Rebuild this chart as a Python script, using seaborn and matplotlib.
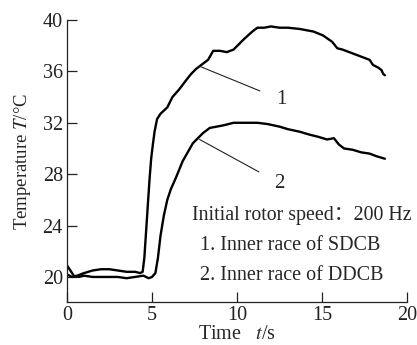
import matplotlib
matplotlib.use("Agg")
import matplotlib.pyplot as plt
import seaborn as sns
import pandas as pd

# Curve 1: inner race of SDCB
t1 = [0, 0.3, 0.6, 1.0, 1.5, 2.0, 2.5, 3.0, 3.5, 4.0, 4.3, 4.45, 4.55, 4.65, 4.75, 4.85, 4.95, 5.05,
      5.15, 5.3, 5.5, 5.9, 6.2, 6.6, 7.0, 7.3, 7.6, 7.9, 8.3, 8.6, 9.0, 9.4, 9.8, 10.1, 10.4, 10.9,
      11.2, 11.6, 12.0, 12.5, 13.0, 13.7, 14.1, 14.5, 15.06, 15.6, 15.9, 16.2, 16.6, 17.0, 17.4,
      17.8, 18.0, 18.3, 18.5, 18.6, 18.7]
T1 = [20.2, 20.0, 20.1, 20.3, 20.5, 20.6, 20.6, 20.5, 20.4, 20.4, 20.3, 20.4, 21.5, 23.5, 25.5,
      27.5, 29.2, 30.3, 31.3, 32.3, 32.7, 33.2, 34.0, 34.6, 35.3, 35.8, 36.2, 36.5, 36.9, 37.6,
      37.6, 37.5, 37.7, 38.1, 38.5, 39.1, 39.4, 39.4, 39.5, 39.4, 39.4, 39.3, 39.2, 39.1, 38.8,
      38.3, 37.8, 37.7, 37.5, 37.3, 37.1, 36.9, 36.5, 36.3, 36.1, 35.8, 35.7]

# Curve 2: inner race of DDCB
t2 = [0, 0.2, 0.4, 0.7, 1.0, 1.5, 2.0, 2.5, 3.0, 3.5, 4.0, 4.5, 4.8, 5.0, 5.2, 5.35, 5.5, 5.7,
      5.9, 6.1, 6.4, 6.8, 7.1, 7.4, 7.7, 8.0, 8.4, 8.8, 9.2, 9.8, 10.5, 11.2, 11.8, 12.5, 13.0,
      13.7, 14.2, 14.8, 15.3, 15.7, 16.0, 16.3, 16.8, 17.3, 17.8, 18.2, 18.7]
T2 = [20.9, 20.5, 20.1, 20.0, 20.1, 20.0, 20.0, 20.0, 20.0, 19.9, 20.0, 20.1, 19.9, 20.0, 20.3,
      21.5, 23.2, 24.8, 26.0, 26.8, 27.7, 29.0, 29.7, 30.4, 30.8, 31.2, 31.6, 31.7, 31.8, 32.0,
      32.0, 32.0, 31.9, 31.7, 31.5, 31.3, 31.1, 30.9, 30.7, 30.8, 30.3, 30.0, 29.9, 29.7, 29.6,
      29.4, 29.2]

x_ticks = [0, 5, 10, 15, 20]
y_ticks = [20, 24, 28, 32, 36, 40]

sns.set_style("ticks")
plt.rcParams['font.family'] = ['Liberation Serif', 'Noto Sans CJK SC', 'DejaVu Sans']
plt.rcParams['mathtext.fontset'] = 'stix'

df = pd.concat([
    pd.DataFrame({'t': t1, 'T': T1, 'curve': '1'}),
    pd.DataFrame({'t': t2, 'T': T2, 'curve': '2'}),
])

fig = plt.figure(figsize=(4.17, 3.45), dpi=100)
ax = fig.add_axes([67/417, 1 - 302/345, 340/417, 282/345])
sns.lineplot(data=df, x='t', y='T', hue='curve', palette=['black', 'black'],
             linewidth=1.7, legend=False, ax=ax, estimator=None, sort=False)

ax.set_xlim(0, 20)
ax.set_ylim(18.05, 40)
ax.set_xticks(x_ticks)
ax.set_yticks(y_ticks)
ax.tick_params(direction='in', length=7, width=0.9, labelsize=14.5, colors='#222222', pad=3)
for s in ['top', 'right']:
    ax.spines[s].set_visible(False)
for s in ['left', 'bottom']:
    ax.spines[s].set_linewidth(0.9)
    ax.spines[s].set_color('#222222')

ax.set_xlabel('Time   $t$/s', fontsize=14.5, va='top')
ax.xaxis.set_label_coords(0.5, -0.082)
ax.set_ylabel('Temperature $T$/°C', fontsize=13.5, va='bottom')
ax.yaxis.set_label_coords(-0.1, 0.5)

ax.annotate('1', xy=(7.8, 36.4), xytext=(12.6, 33.8), fontsize=15, ha='center', va='center',
            arrowprops=dict(arrowstyle='-', lw=0.8, color='#222222', shrinkA=10, shrinkB=0))
ax.annotate('2', xy=(7.8, 30.7), xytext=(12.5, 27.3), fontsize=15, ha='center', va='center',
            arrowprops=dict(arrowstyle='-', lw=0.8, color='#222222', shrinkA=10, shrinkB=0))

ax.text(7.35, 24.8, 'Initial rotor speed：200 Hz', fontsize=14.3, ha='left', va='center')
ax.text(7.85, 22.45, '1. Inner race of SDCB', fontsize=14.5, ha='left', va='center')
ax.text(7.85, 20.1, '2. Inner race of DDCB', fontsize=14.5, ha='left', va='center')

fig.savefig('out.png', dpi=100)
